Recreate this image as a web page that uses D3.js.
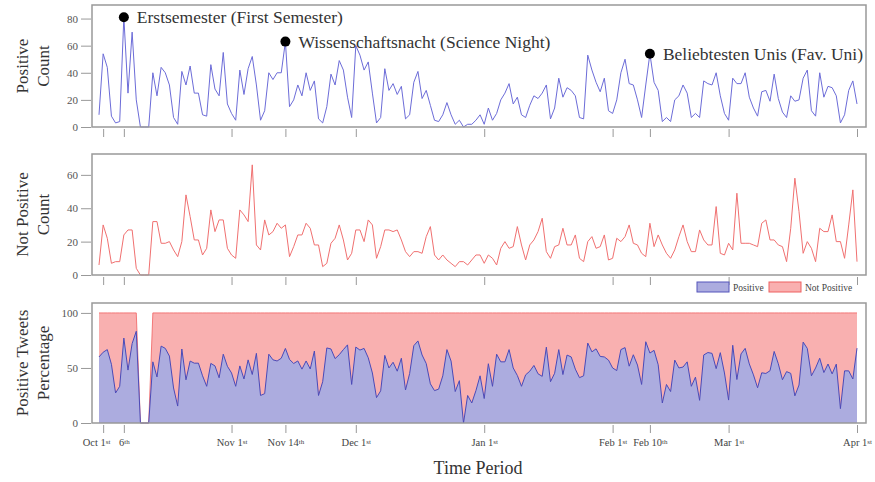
<!DOCTYPE html>
<html><head><meta charset="utf-8">
<script src="https://cdn.jsdelivr.net/npm/d3@7"></script>
<style>body{margin:0;background:#fff}svg{display:block}</style>
</head><body><svg id="c" width="875" height="482"></svg>
<script>
// ---- data (daily counts, Sep 30 2016 .. Apr 1 2017) ----
const startDay = new Date(2016, 8, 30);
const endDay = new Date(2017, 3, 1);
const positive = [9,54,44,8,3,4,81,25,70,20,0,0,0,40,23,44,40,31,7,2,
41,31,45,25,25,9,8,46,28,23,55,17,10,5,42,24,43,52,31,5,
12,40,35,40,40,63,15,20,31,23,40,27,34,6,3,15,39,31,49,42,
22,7,60,53,42,48,25,3,7,43,27,32,24,30,6,9,33,41,21,27,
16,5,4,9,18,9,2,5,0,2,2,5,9,2,14,5,10,20,25,32,
17,22,9,7,16,23,21,25,31,6,14,36,22,29,27,23,7,6,53,42,
33,26,36,12,10,20,40,50,32,31,20,7,31,54,33,27,4,7,4,20,
23,31,25,7,10,7,34,32,31,40,23,10,5,36,32,32,40,22,14,8,
26,27,19,39,21,11,7,23,19,20,36,42,12,8,40,22,30,29,23,3,
9,27,34,17];
const notPositive = [6,30,22,7,8,8,24,27,27,4,0,0,0,32,32,19,19,20,15,11,
20,48,35,21,21,12,16,39,26,33,33,16,12,10,39,36,32,66,18,15,
33,24,26,31,28,30,11,17,24,24,31,28,18,18,5,7,19,22,30,21,
9,13,27,27,20,33,30,10,17,27,27,26,27,21,14,11,14,14,13,23,
29,12,9,12,9,7,5,8,8,6,9,12,12,7,12,10,6,16,20,16,
17,29,18,9,18,21,26,34,14,10,17,18,28,18,18,24,10,8,20,23,
16,17,24,9,10,22,20,23,30,19,18,13,11,31,17,24,18,13,10,15,
23,30,20,14,14,27,21,18,18,41,13,12,19,15,49,19,19,19,18,17,
31,33,21,21,18,17,8,28,58,38,13,20,16,8,28,26,26,36,20,20,
10,30,51,8];
const tickDates = ["2016-10-01","2016-10-06","2016-11-01","2016-11-14","2016-12-01",
                   "2017-01-01","2017-02-01","2017-02-10","2017-03-01","2017-04-01"];
const tickMain = ["Oct 1","6","Nov 1","Nov 14","Dec 1","Jan 1","Feb 1","Feb 10","Mar 1","Apr 1"];
const tickSup  = ["st","th","st","th","st","st","st","th","st","st"];
const eventDates = ["2016-10-06","2016-11-14","2017-02-10"];
const eventLabels = ["Erstsemester (First Semester)","Wissenschaftsnacht (Science Night)","Beliebtesten Unis (Fav. Uni)"];
const yTicks1 = [0,20,40,60,80];
const yTicks2 = [0,20,40,60];
const yTicks3 = [0,50,100];
const legendLabels = ["Positive","Not Positive"];

// ---- derived ----
const parse = d3.timeParse("%Y-%m-%d");
const days = d3.timeDay.range(startDay, d3.timeDay.offset(endDay, 1));
const rows = days.map((d, i) => {
  const p = positive[i], n = notPositive[i], t = p + n;
  return {date: d, pos: p, neg: n, pct: t > 0 ? p / t * 100 : 0, top: t > 0 ? 100 : 0};
});

const svg = d3.select("#c");
const FONT = "'Liberation Serif','Times New Roman',serif";
const blueLine = "#6c6cd8", redLine = "#f07070";
const blueFill = "#acacdf", redFill = "#f9b0b0";
const frameL = 92, frameR = 866;
const x = d3.scaleTime().domain([days[0], days[days.length - 1]]).range([99, 857]);

const panels = [
  {top: 5, bottom: 127, max: 90, ticks: yTicks1, title: ["Positive", "Count"]},
  {top: 154, bottom: 275, max: 72.5, ticks: yTicks2, title: ["Not Positive", "Count"]},
  {top: 303, bottom: 423, max: 109, ticks: yTicks3, title: ["Positive Tweets", "Percentage"]}
];
panels.forEach(p => { p.y = d3.scaleLinear().domain([0, p.max]).range([p.bottom, p.top]); });

panels.forEach((p, k) => {
  const ya = svg.append("g").attr("transform", `translate(${frameL - 1},0)`)
    .call(d3.axisLeft(p.y).tickValues(p.ticks).tickSize(10).tickPadding(3));
  ya.select(".domain").remove();
  ya.selectAll("line").attr("stroke", "#999");
  ya.selectAll("text").attr("font-family", FONT).attr("font-size", 11).attr("fill", "#555");
  const xa = svg.append("g").attr("transform", `translate(0,${p.bottom + 2})`)
    .call(d3.axisBottom(x).tickValues(tickDates.map(parse)).tickSize(8).tickPadding(6)
      .tickFormat((d, i) => k === 2 ? tickMain[i] : ""));
  xa.select(".domain").remove();
  xa.selectAll("line").attr("stroke", "#999");
  if (k === 2) {
    xa.selectAll("text").attr("font-family", FONT).attr("font-size", 10.5).attr("fill", "#444")
      .attr("dx", (d, i) => i === 0 ? -7 : 0)
      .append("tspan").attr("font-size", 7).attr("dy", "-0.4em").text((d, i) => tickSup[i]);
  }
  const cy = (p.top + p.bottom) / 2;
  p.title.forEach((t, j) => {
    svg.append("text").attr("transform", `translate(${22 + j * 21},${cy}) rotate(-90)`)
      .attr("text-anchor", "middle").attr("dominant-baseline", "central")
      .attr("font-family", FONT).attr("font-size", 17).attr("fill", "#333").text(t);
  });
});

const p1 = panels[0], p2 = panels[1], p3 = panels[2];
svg.append("path").datum(rows).attr("fill", "none").attr("stroke", blueLine).attr("stroke-width", 1)
  .attr("d", d3.line().x(d => x(d.date)).y(d => p1.y(d.pos)));
svg.append("path").datum(rows).attr("fill", "none").attr("stroke", redLine).attr("stroke-width", 1)
  .attr("d", d3.line().x(d => x(d.date)).y(d => p2.y(d.neg)));
svg.append("path").datum(rows).attr("fill", redFill).attr("stroke", "none")
  .attr("d", d3.area().x(d => x(d.date)).y0(p3.y(0)).y1(d => p3.y(d.top)));
svg.append("path").datum(rows).attr("fill", "none").attr("stroke", "#f06060").attr("stroke-width", 0.8)
  .attr("d", d3.line().x(d => x(d.date)).y(d => p3.y(d.top)));
svg.append("path").datum(rows).attr("fill", blueFill).attr("stroke", "none")
  .attr("d", d3.area().x(d => x(d.date)).y0(p3.y(0)).y1(d => p3.y(d.pct)));
svg.append("path").datum(rows).attr("fill", "none").attr("stroke", "#4a4ab8").attr("stroke-width", 1)
  .attr("d", d3.line().x(d => x(d.date)).y(d => p3.y(d.pct)));

panels.forEach(p => {
  svg.append("rect").attr("x", frameL).attr("y", p.top).attr("width", frameR - frameL)
    .attr("height", p.bottom - p.top).attr("fill", "none").attr("stroke", "#999").attr("stroke-width", 1.5);
});

eventDates.forEach((ds, i) => {
  const d = parse(ds);
  const r = rows.find(r => +r.date === +d);
  const cx = x(d), cy = p1.y(r.pos);
  svg.append("circle").attr("cx", cx).attr("cy", cy).attr("r", 5).attr("fill", "#000");
  svg.append("text").attr("x", cx + 13).attr("y", cy).attr("dominant-baseline", "central")
    .attr("font-family", FONT).attr("font-size", 17.5).attr("fill", "#333").text(eventLabels[i]);
});

const lg = svg.append("g");
const legendItems = [
  {label: legendLabels[0], fill: blueFill, stroke: "#5555bb", x: 697},
  {label: legendLabels[1], fill: redFill, stroke: "#ee6060", x: 769}
];
legendItems.forEach(it => {
  lg.append("rect").attr("x", it.x).attr("y", 282).attr("width", 32).attr("height", 10)
    .attr("fill", it.fill).attr("stroke", it.stroke).attr("stroke-width", 1);
  lg.append("text").attr("x", it.x + 36).attr("y", 287.5).attr("dominant-baseline", "central")
    .attr("font-family", FONT).attr("font-size", 9.5).attr("fill", "#444").text(it.label);
});

svg.append("text").attr("x", 478).attr("y", 468).attr("text-anchor", "middle")
  .attr("dominant-baseline", "central").attr("font-family", FONT).attr("font-size", 18)
  .attr("fill", "#333").text("Time Period");
</script></body></html>
